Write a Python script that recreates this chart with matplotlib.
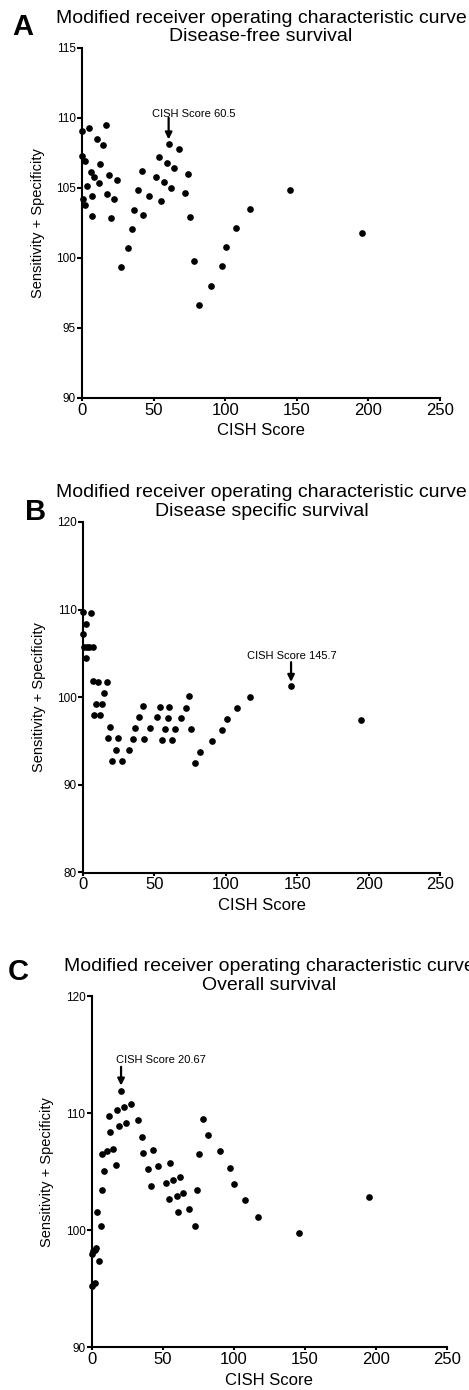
import matplotlib
matplotlib.use("Agg")
import matplotlib.pyplot as plt
from matplotlib.transforms import offset_copy

plt.rcParams['font.family'] = ['Liberation Sans', 'DejaVu Sans']

# ---------------- data ----------------
title_main = "Modified receiver operating characteristic curve"
subtitles = ["Disease-free survival", "Disease specific survival", "Overall survival"]
panel_letters = ["A", "B", "C"]
x_label = "CISH Score"
y_label = "Sensitivity + Specificity"

a_x = [0, 0.2, 1.9, 0.9, 2.3, 3.5, 5.1, 6.3, 7.2, 7.0, 8.6, 10.7, 11.9, 12.8, 14.7, 16.8,
       17.5, 18.9, 20.3, 22.6, 24.2, 27.2, 32.4, 35.0, 36.3, 39.3, 41.7, 42.8, 46.8, 51.9,
       53.8, 55.2, 57.3, 59.6, 60.5, 62.2, 64.0, 68.0, 72.2, 73.8, 75.7, 78.2, 81.9, 90.1,
       97.5, 100.3, 107.5, 117.1, 145.5, 195.3]
a_y = [109.06, 107.29, 106.89, 104.17, 103.77, 105.14, 109.25, 106.13, 104.39, 103.02,
       105.75, 108.49, 105.35, 106.72, 108.09, 109.46, 104.58, 105.94, 102.85, 104.22,
       105.59, 99.34, 100.71, 102.08, 103.44, 104.81, 106.18, 103.07, 104.44, 105.78,
       107.17, 104.03, 105.42, 106.77, 108.16, 105.02, 106.39, 107.76, 104.64, 106.01,
       102.90, 99.76, 96.64, 98.02, 99.39, 100.75, 102.12, 103.49, 104.86, 101.75]

b_x = [0, 5.4, 2.0, 0, 0.7, 2.6, 4.5, 6.8, 2.1, 7.0, 10.7, 16.8, 8.9, 13.1, 14.9, 7.5,
       12.1, 18.9, 17.7, 24.3, 22.9, 20.5, 27.3, 32.4, 35.2, 36.6, 39.4, 42.0, 43.0, 46.9,
       52.1, 53.9, 55.1, 57.6, 59.8, 60.5, 62.1, 64.2, 68.4, 72.4, 74.0, 75.9, 78.2, 81.9,
       90.3, 97.6, 100.6, 107.8, 117.2, 145.7, 194.9]
b_y = [109.7, 109.6, 108.4, 107.2, 105.75, 105.75, 105.7, 105.7, 104.47, 101.82, 101.78,
       101.70, 99.24, 99.20, 100.49, 97.95, 97.92, 96.59, 95.34, 95.30, 94.02, 92.77,
       92.73, 93.98, 95.23, 96.48, 97.73, 99.02, 95.19, 96.44, 97.69, 98.94, 95.15, 96.40,
       97.65, 98.90, 95.11, 96.36, 97.61, 98.83, 100.11, 96.33, 92.46, 93.71, 95.0, 96.25,
       97.5, 98.79, 100.0, 101.29, 97.46]

c_x = [20.67, 27.5, 23.0, 17.8, 12.2, 24.4, 19.0, 12.9, 32.4, 35.2, 15.0, 10.8, 7.5, 36.4,
       43.0, 16.9, 8.7, 39.4, 46.9, 55.2, 7.0, 42.0, 52.1, 57.5, 62.2, 54.2, 59.9, 64.3,
       73.9, 3.8, 60.6, 68.5, 75.8, 78.4, 81.9, 90.4, 97.7, 100.5, 108.0, 117.4, 195.3,
       6.3, 72.5, 145.8, 0, 1.0, 2.0, 3.0, 5.4, 0.4, 2.1]
c_y = [111.90, 110.77, 110.51, 110.26, 109.74, 109.12, 108.86, 108.35, 109.38, 107.98,
       106.96, 106.73, 106.48, 106.59, 106.85, 105.57, 105.09, 105.20, 105.45, 105.71,
       103.44, 103.81, 104.06, 104.32, 104.57, 102.67, 102.93, 103.18, 103.44, 101.53,
       101.53, 101.79, 106.48, 109.52, 108.13, 106.73, 105.34, 103.95, 102.56, 101.16,
       102.81, 100.37, 100.37, 99.72, 97.97, 98.2, 98.35, 98.5, 97.34, 95.21, 95.47]

x_ticks = [0, 50, 100, 150, 200, 250]
a_yticks = [90, 95, 100, 105, 110, 115]
b_yticks = [80, 90, 100, 110, 120]
c_yticks = [90, 100, 110, 120]

cutoff_labels = ["CISH Score 60.5", "CISH Score 145.7", "CISH Score 20.67"]
cutoff_x = [60.5, 145.7, 20.67]
cutoff_y = [108.16, 101.29, 111.90]

# ---------------- layout ----------------
W, H = 469, 1390
fig = plt.figure(figsize=(W / 100, H / 100), dpi=100)

def frac(left, right, top, bottom):
    return [left / W, 1 - bottom / H, (right - left) / W, (bottom - top) / H]

panels = [
    dict(rect=frac(82, 440, 47.7, 398), x=a_x, y=a_y, ylim=(90, 115), yticks=a_yticks,
         label_pos=(12, 35), text_xy=(77.9, 110.3), arrow=(110.0, 108.45)),
    dict(rect=frac(83, 440, 522, 872.5), x=b_x, y=b_y, ylim=(80, 120), yticks=b_yticks,
         label_pos=(25, 520), text_xy=(146.0, 104.7), arrow=(104.0, 101.75)),
    dict(rect=frac(91.7, 446.7, 996, 1347.3), x=c_x, y=c_y, ylim=(90, 120), yticks=c_yticks,
         label_pos=(8, 980), text_xy=(48.7, 114.55), arrow=(113.95, 112.35)),
]

for i, p in enumerate(panels):
    ax = fig.add_axes(p['rect'])
    ax.plot(p['x'], p['y'], 'o', color='black', ms=3.8, mec='black', clip_on=False, zorder=5)
    ax.set_xlim(0, 250)
    ax.set_ylim(*p['ylim'])
    ax.set_xticks(x_ticks)
    ax.set_yticks(p['yticks'])
    for s in ['top', 'right']:
        ax.spines[s].set_visible(False)
    for s in ['left', 'bottom']:
        ax.spines[s].set_linewidth(1.5)
        ax.spines[s].set_color('black')
    ax.tick_params(axis='x', direction='out', length=2.5, width=1.5, labelsize=12, pad=1)
    ax.tick_params(axis='y', direction='out', length=3.5, width=1.5, labelsize=8.5, pad=1)
    ax.set_xlabel(x_label, fontsize=12, labelpad=4)
    ax.set_ylabel(y_label, fontsize=10.5, labelpad=8)
    # two-line title, drawn as two texts
    t2 = offset_copy(ax.transAxes, fig=fig, x=0, y=4.5, units='points')
    t1 = offset_copy(ax.transAxes, fig=fig, x=0, y=18.0, units='points')
    ax.text(0.5, 1.0, subtitles[i], transform=t2, fontsize=14, ha='center', va='baseline')
    ax.text(0.5, 1.0, title_main, transform=t1, fontsize=14, ha='center', va='baseline')
    fig.text(p['label_pos'][0] / W, 1 - p['label_pos'][1] / H, panel_letters[i],
             fontsize=21, fontweight='bold', ha='left', va='baseline')
    # cutoff annotation
    ax.text(p['text_xy'][0], p['text_xy'][1], cutoff_labels[i], fontsize=8,
            ha='center', va='center')
    ax.annotate('', xy=(cutoff_x[i], p['arrow'][1]), xytext=(cutoff_x[i], p['arrow'][0]),
                arrowprops=dict(arrowstyle='-|>', lw=1.6, color='black',
                                mutation_scale=10, shrinkA=0, shrinkB=0))

fig.savefig("out.png", dpi=100)
